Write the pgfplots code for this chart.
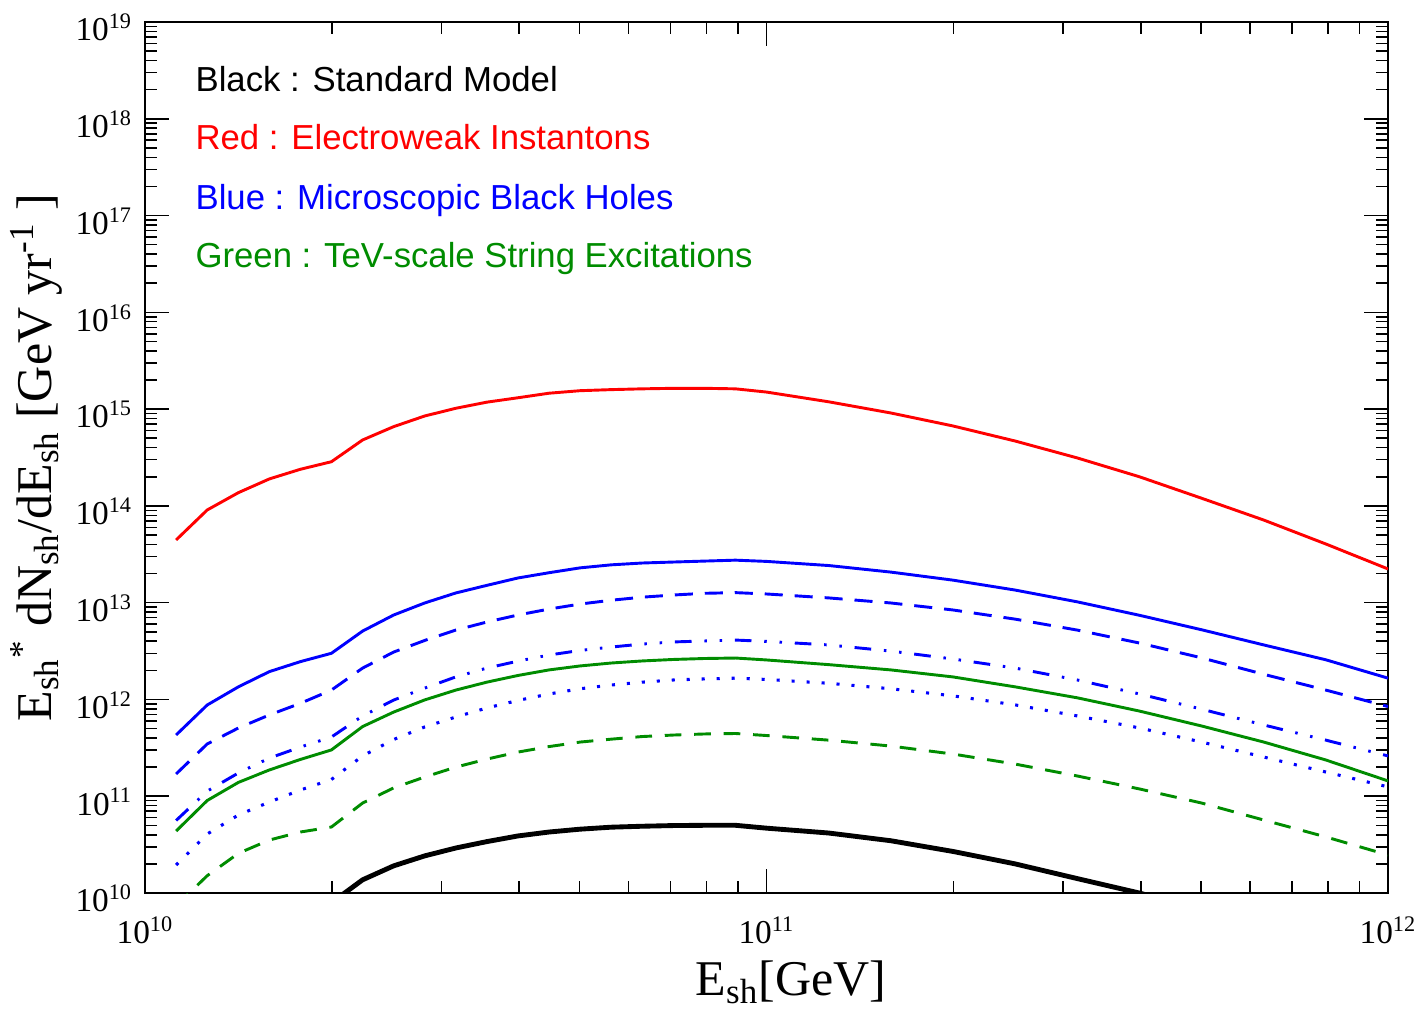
\documentclass[border=0pt]{standalone}
\usepackage{fontspec}
\setmainfont{Liberation Serif}
\newfontfamily\arialfont{Liberation Sans}
\usepackage{pgfplots}
\usepackage{pgfplotstable}
\pgfplotsset{compat=1.18}

\definecolor{cred}{RGB}{255,0,0}
\definecolor{cblue}{RGB}{0,0,255}
\definecolor{cgreen}{RGB}{0,140,0}

% shower energy [GeV] and E dN/dE [GeV/yr] for each model
\pgfplotstableread{
x        red      bsol     bdash    bdd      bdot     gsol     gdash    blk
1.122e10 4.45e13  4.30e11  1.70e11  5.62e10  1.95e10  4.37e10  7.41e9   nan
1.259e10 9.08e13  8.77e11  3.47e11  1.13e11  4.07e10  9.04e10  1.51e10  nan
1.413e10 1.37e14  1.35e12  5.07e11  1.74e11  6.40e10  1.39e11  2.57e10  nan
1.585e10 1.90e14  1.94e12  6.92e11  2.48e11  8.71e10  1.87e11  3.53e10  nan
1.778e10 2.39e14  2.46e12  9.12e11  3.22e11  1.16e11  2.40e11  4.27e10  nan
1.995e10 2.86e14  3.00e12  1.25e12  4.09e11  1.49e11  3.01e11  4.81e10  7.94e9
2.239e10 4.80e14  5.09e12  2.11e12  6.76e11  2.61e11  5.25e11  8.51e10  1.37e10
2.512e10 6.59e14  7.46e12  3.09e12  9.86e11  3.86e11  7.41e11  1.22e11  1.91e10
2.818e10 8.49e14  9.93e12  4.07e12  1.31e12  5.20e11  9.89e11  1.58e11  2.42e10
3.162e10 1.02e15  1.26e13  5.21e12  1.71e12  6.59e11  1.25e12  2.00e11  2.92e10
3.548e10 1.18e15  1.51e13  6.31e12  2.11e12  8.17e11  1.51e12  2.42e11  3.40e10
3.981e10 1.31e15  1.80e13  7.46e12  2.49e12  9.77e11  1.77e12  2.86e11  3.89e10
4.467e10 1.46e15  2.04e13  8.59e12  2.88e12  1.14e12  2.02e12  3.26e11  4.27e10
5.012e10 1.55e15  2.29e13  9.68e12  3.21e12  1.29e12  2.22e12  3.63e11  4.57e10
5.623e10 1.59e15  2.46e13  1.06e13  3.48e12  1.41e12  2.38e12  3.89e11  4.79e10
6.310e10 1.62e15  2.57e13  1.14e13  3.74e12  1.51e12  2.50e12  4.14e11  4.90e10
7.079e10 1.64e15  2.63e13  1.20e13  3.93e12  1.59e12  2.59e12  4.29e11  4.98e10
7.943e10 1.64e15  2.69e13  1.25e13  4.02e12  1.63e12  2.65e12  4.40e11  5.01e10
8.913e10 1.62e15  2.75e13  1.27e13  4.11e12  1.66e12  2.68e12  4.45e11  5.01e10
1.000e11 1.50e15  2.67e13  1.23e13  3.98e12  1.61e12  2.56e12  4.24e11  4.68e10
1.259e11 1.19e15  2.42e13  1.12e13  3.66e12  1.47e12  2.29e12  3.80e11  4.17e10
1.585e11 9.12e14  2.07e13  9.93e12  3.16e12  1.29e12  2.02e12  3.30e11  3.47e10
1.995e11 6.70e14  1.71e13  8.41e12  2.62e12  1.09e12  1.71e12  2.73e11  2.69e10
2.512e11 4.68e14  1.35e13  6.76e12  2.11e12  8.79e11  1.35e12  2.15e11  2.00e10
3.162e11 3.13e14  1.02e13  5.21e12  1.59e12  6.76e11  1.04e12  1.62e11  1.41e10
3.981e11 2.00e14  7.41e12  3.83e12  1.14e12  5.08e11  7.59e11  1.19e11  1.00e10
5.012e11 1.20e14  5.25e12  2.69e12  7.94e11  3.63e11  5.32e11  8.51e10  6.68e9
6.310e11 7.14e13  3.66e12  1.82e12  5.45e11  2.54e11  3.63e11  5.68e10  nan
7.943e11 4.04e13  2.57e12  1.25e12  3.80e11  1.78e11  2.37e11  3.80e10  nan
1.000e12 2.23e13  1.66e12  8.45e11  2.61e11  1.25e11  1.44e11  2.47e10  nan
}\showers

\begin{document}
\begin{tikzpicture}
\begin{axis}[
    scale only axis,
    width=447.5pt, height=313.6pt,
    xmode=log, ymode=log,
    xmin=1e10, xmax=1e12,
    ymin=1e10, ymax=1e19,
    ytickten={10,...,19},
    xtickten={10,11,12},
    tick align=inside,
    major tick length=8.6pt,
    minor tick length=4.3pt,
    axis line style={line width=0.9pt},
    every tick/.style={black, line width=0.55pt},
    log number format basis/.code 2 args={#1\textsuperscript{\pgfmathprintnumber[assume math mode=true]{#2}}},
    ticklabel style={font=\fontsize{12}{14}\selectfont},
    xticklabel style={yshift=-5pt},
    yticklabel style={yshift=-2pt, xshift=-1pt},
    xlabel={E\textsubscript{sh}[GeV]},
    ylabel={E\textsubscript{sh}\textsuperscript{*} dN\textsubscript{sh}/dE\textsubscript{sh} [GeV yr\textsuperscript{-1} ]},
    label style={font=\fontsize{18}{21}\selectfont},
    xlabel style={at={(axis description cs:0.5197,-0.1180)}, anchor=base},
    ylabel style={at={(axis description cs:-0.0875,0.5)}, anchor=center},
    no markers,
    every axis plot/.append style={line join=round},
]
\addplot[cred, line width=1.05pt] table[x=x, y=red] {\showers};
\addplot[cblue, line width=1.05pt] table[x=x, y=bsol] {\showers};
\addplot[cblue, line width=1.05pt, dash pattern=on 6.5pt off 4.3pt] table[x=x, y=bdash] {\showers};
\addplot[cblue, line width=1.05pt, dash pattern=on 6pt off 4.6pt on 0.9pt off 4.6pt on 0.9pt off 4.6pt] table[x=x, y=bdd] {\showers};
\addplot[cblue, line width=1.1pt, dash pattern=on 1.1pt off 4.3pt] table[x=x, y=bdot] {\showers};
\addplot[cgreen, line width=1.05pt] table[x=x, y=gsol] {\showers};
\addplot[cgreen, line width=1.05pt, dash pattern=on 6pt off 4.6pt] table[x=x, y=gdash] {\showers};
\addplot[black, line width=1.75pt] table[x=x, y=blk] {\showers};

\begin{scope}[every node/.style={anchor=west, inner sep=0pt, font=\arialfont\fontsize{12.5}{15}\selectfont}]
\node[text=black] at (rel axis cs:0.0402,0.9346) {Black : Standard Model};
\node[text=cred] at (rel axis cs:0.0402,0.8680) {Red : Electroweak Instantons};
\node[text=cblue] at (rel axis cs:0.0402,0.7956) {Blue : Microscopic Black Holes};
\node[text=cgreen] at (rel axis cs:0.0402,0.7279) {Green : TeV-scale String Excitations};
\end{scope}

\coordinate (bbl) at (rel axis cs:-0.11665,-0.13203);
\coordinate (btr) at (rel axis cs:1.02253,1.02526);
\end{axis}
\pgfresetboundingbox
\path (bbl) rectangle (btr);
\end{tikzpicture}
\end{document}
